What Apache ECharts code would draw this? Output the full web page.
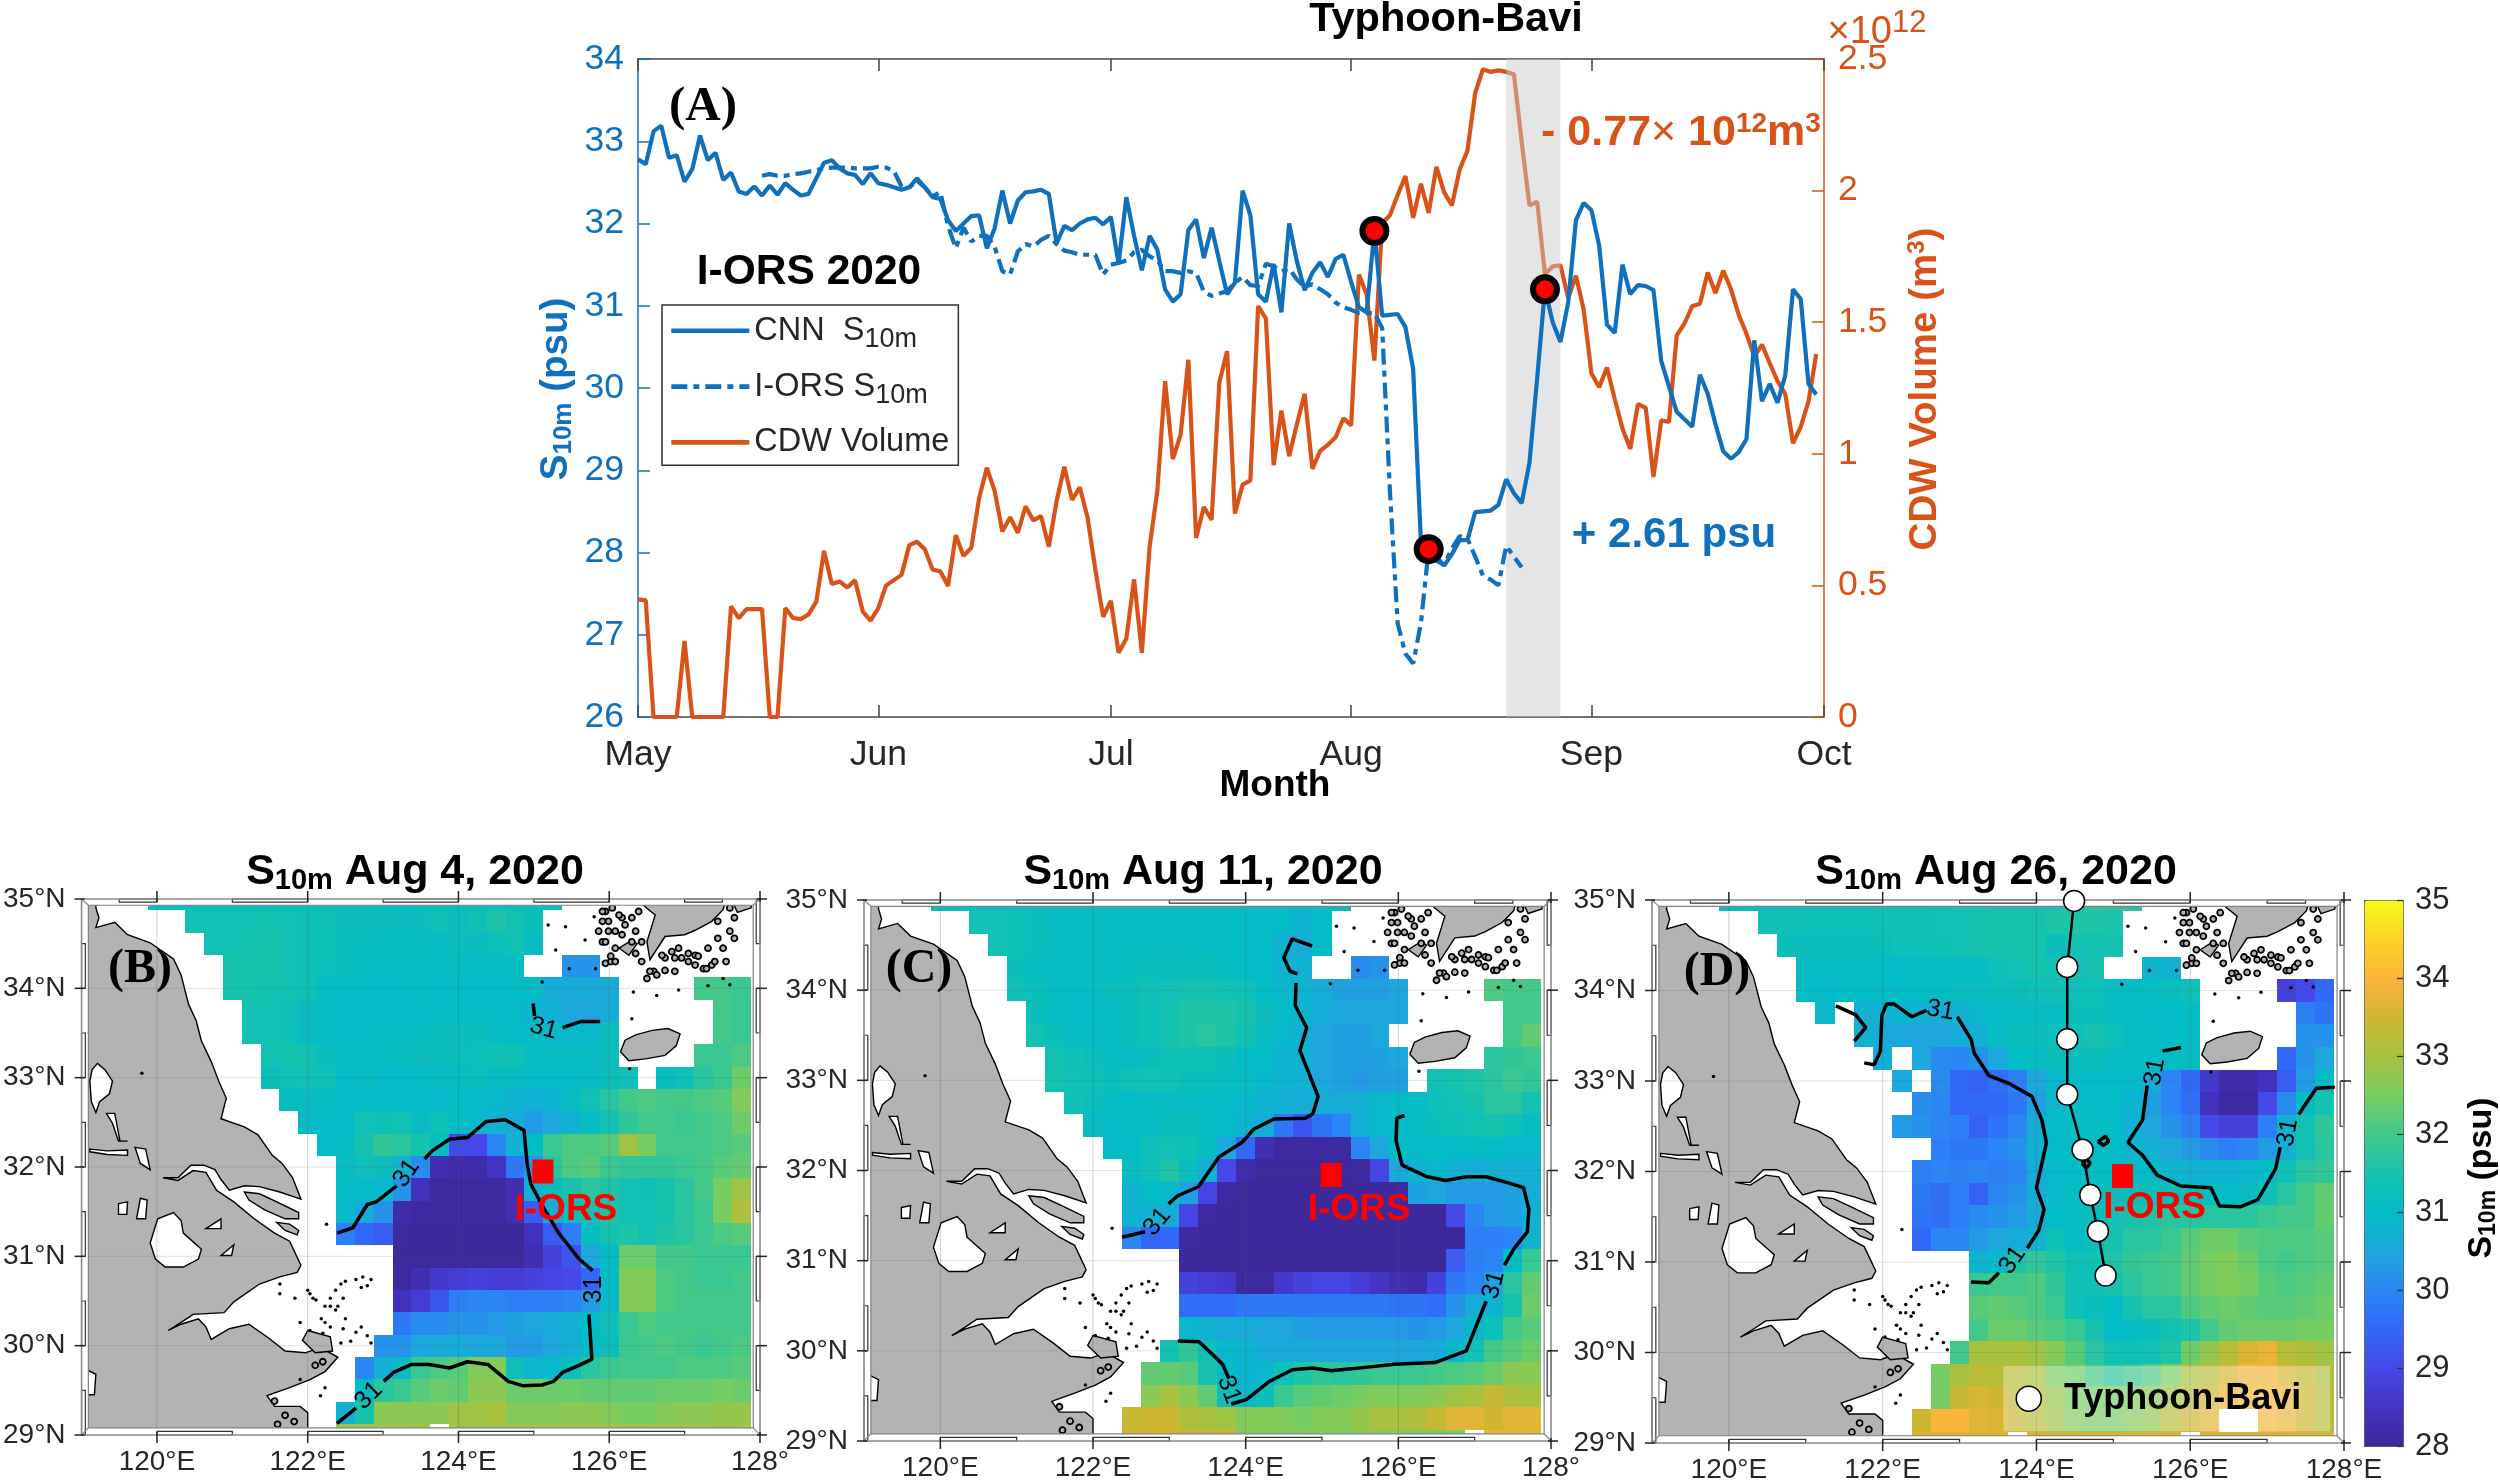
<!DOCTYPE html>
<html>
<head>
<meta charset="utf-8">
<title>I-ORS 2020</title>
<script src="https://cdn.jsdelivr.net/npm/echarts@6/dist/echarts.min.js"></script>
<style>
html,body{margin:0;padding:0;background:#fff}
#main{width:2500px;height:1484px}
</style>
</head>
<body>
<div id="main"></div>
<script>
// panel A, day index counted from May 1
var monthTicks = [0, 31, 61, 92, 123, 153];
var monthLabels = ['May', 'Jun', 'Jul', 'Aug', 'Sep', 'Oct'];
var cnnSalinity = [32.78,32.72,33.12,33.19,32.80,32.83,32.51,32.66,33.07,32.77,32.86,32.53,32.62,32.39,32.36,32.45,32.34,32.46,32.35,32.49,32.41,32.34,32.36,32.55,32.74,32.77,32.67,32.61,32.59,32.48,32.61,32.49,32.47,32.44,32.41,32.44,32.55,32.44,32.32,32.30,32.04,31.91,32.00,32.09,32.10,31.70,31.94,32.40,32.00,32.28,32.38,32.39,32.41,32.36,31.76,31.97,31.92,32.00,32.05,32.07,31.99,32.08,31.51,32.32,31.85,31.43,31.85,31.68,31.20,31.05,31.14,31.92,32.05,31.58,31.95,31.54,31.14,31.28,32.40,32.10,31.14,31.05,31.51,30.92,32.00,31.54,31.19,31.40,31.53,31.35,31.57,31.62,31.29,30.98,30.92,31.91,30.88,30.89,30.90,30.74,30.23,28.13,28.04,27.95,27.84,27.98,28.15,28.15,28.49,28.50,28.51,28.58,28.89,28.72,28.60,29.09,30.12,31.20,30.80,30.56,31.04,32.04,32.25,32.16,31.73,30.77,30.67,31.50,31.14,31.25,31.24,31.19,30.33,30.02,29.71,29.62,29.53,30.16,29.93,29.56,29.23,29.14,29.22,29.38,30.58,29.84,30.05,29.82,30.15,31.20,31.08,30.05,29.92];
var orsStart = 16;
var orsSalinity = [32.58,32.60,32.58,32.58,32.60,32.61,32.63,32.65,32.67,32.68,32.68,32.68,32.67,32.67,32.67,32.69,32.68,32.64,32.45,32.44,32.52,32.44,32.33,32.38,31.97,31.70,31.95,31.78,31.85,31.85,31.72,31.42,31.38,31.66,31.75,31.72,31.80,31.85,31.75,31.67,31.65,31.62,31.62,31.62,31.38,31.50,31.52,31.55,31.65,31.68,31.60,31.55,31.42,31.42,31.40,31.42,31.40,31.17,31.12,31.15,31.18,31.28,31.35,31.25,31.24,31.51,31.48,31.42,31.45,31.32,31.23,31.26,31.20,31.14,31.04,30.98,30.95,30.91,30.91,30.91,30.73,28.75,27.14,26.77,26.65,27.14,28.04,27.90,27.85,28.05,28.20,28.17,27.95,27.72,27.67,27.60,28.08,27.95,27.82];
var cdwVolume = [0.447,0.443,0,0,0,0,0.289,0,0,0,0,0,0.42,0.376,0.41,0.41,0.41,0,0,0.414,0.376,0.372,0.39,0.438,0.631,0.505,0.515,0.492,0.52,0.40,0.366,0.414,0.50,0.52,0.54,0.653,0.666,0.637,0.56,0.554,0.498,0.691,0.612,0.643,0.83,0.947,0.86,0.705,0.759,0.70,0.80,0.747,0.763,0.647,0.82,0.951,0.825,0.873,0.757,0.56,0.381,0.441,0.244,0.298,0.523,0.244,0.647,0.86,1.276,0.98,1.073,1.357,0.68,0.798,0.749,1.272,1.39,0.773,0.883,0.899,1.561,1.514,0.957,1.164,0.991,1.112,1.228,0.943,1.011,1.034,1.063,1.135,1.108,1.681,1.605,1.354,1.876,1.906,1.983,2.055,1.896,2.026,1.915,2.09,1.993,1.944,2.08,2.151,2.37,2.461,2.451,2.457,2.451,2.442,2.186,1.944,1.958,1.683,1.712,1.716,1.592,1.677,1.547,1.305,1.253,1.328,1.208,1.096,1.019,1.189,1.175,0.912,1.127,1.121,1.45,1.495,1.561,1.57,1.689,1.611,1.696,1.625,1.528,1.456,1.369,1.415,1.344,1.276,1.228,1.04,1.102,1.199,1.379];
var eventDays = [95, 102, 117];
var eventSalinity = [31.91, 28.04, 31.20];
var typhoonDays = [112, 119];

// maps: 0.25 degree cells, row 0 is lat 35 going south, each row is [first column, values], column 0 is 120E
var salinityB = [
[0,[31.15,31.15,31.15,31.15,31.15,31.15,31.15,31.15,31.15,31.15,31.15,31.15,31.15,31.15,31.15,31.15,31.15,31.15,31.15,31.15,31.15,31.15]],
[2,[31.4,31.4,31.4,31.4,31.45,31.4,31.3,31.3,31.2,31.2,31.2,31.15,31.2,31.3,31.2,31.35,31.6,31.4,31.2]],
[3,[31.4,31.4,31.45,31.5,31.4,31.3,31.3,31.2,31.15,31.15,31.15,31.15,31.1,31.2,31.2,31.25,31.4,31.1]],
[4,[31.5,31.5,31.5,31.4,31.3,31.25,31.2,31.1,31.1,31.1,31.1,31.1,31.1,31.1,31.1,31.05,null,null,30.2,30.2]],
[4,[31.5,31.5,31.45,31.4,31.3,31.0,31.0,31.0,31.0,31.0,31.05,31.0,31.0,31.0,31.0,31.0,31.0,30.6,30.6,30.6,30.6,null,null,null,null,32.0,32.0,31.9]],
[5,[31.4,31.4,31.3,31.1,31.05,31.0,31.0,31.0,31.0,31.0,31.0,31.0,31.0,31.0,30.95,30.8,30.7,30.5,30.5,30.6,null,null,null,null,null,32.0,31.9]],
[5,[31.4,31.4,31.3,31.1,31.05,31.0,31.0,31.1,31.1,31.1,31.2,31.2,31.2,31.1,31.0,31.0,30.9,30.9,30.9,31.2,null,null,null,null,null,32.0,31.9]],
[6,[31.4,31.5,31.4,31.2,31.1,31.1,31.1,31.15,31.2,31.2,31.2,31.25,31.35,31.35,31.1,31.1,31.1,31.1,31.2,null,null,null,null,31.9,31.9,32.1]],
[6,[31.2,31.3,31.4,31.3,31.0,31.1,30.95,31.0,31.0,31.1,31.1,31.2,31.1,31.1,31.0,31.0,31.0,31.1,31.2,31.3,null,31.1,31.3,31.7,31.9,32.4]],
[7,[31.1,31.1,31.1,31.0,31.0,31.0,31.0,31.0,30.9,31.0,30.95,30.9,30.8,30.7,30.8,31.1,31.4,31.7,32.0,32.1,32.0,32.0,32.1,32.2,32.6]],
[8,[31.0,31.0,31.0,31.4,31.3,31.4,31.1,31.3,31.0,30.9,30.7,30.6,30.3,30.5,30.7,31.1,31.4,31.8,32.0,32.0,31.9,32.0,32.1,32.4]],
[9,[31.0,31.1,31.5,31.8,31.7,31.5,31.1,29.0,29.0,30.0,30.7,31.0,31.9,32.1,32.1,32.2,32.9,32.5,32.0,32.0,32.0,32.1,32.2]],
[10,[31.1,31.3,31.2,30.8,30.1,28.3,28.2,28.2,28.5,29.8,30.3,31.7,32.1,32.2,31.9,31.8,31.8,31.8,31.9,32.0,32.2,32.3]],
[10,[31.0,31.0,30.9,30.2,28.4,28.1,28.1,28.1,28.1,28.3,30.7,31.2,31.5,31.7,31.6,31.4,31.3,31.5,31.7,32.0,32.5,32.9]],
[10,[30.9,30.6,30.2,28.2,28.1,28.1,28.1,28.1,28.1,28.3,29.3,30.6,31.2,31.4,31.6,31.4,31.4,31.5,31.7,31.9,32.5,33.1]],
[10,[29.9,29.5,29.3,28.1,28.05,28.05,28.05,28.05,28.05,28.05,28.4,29.3,29.9,31.1,31.5,31.6,31.4,31.6,31.7,31.9,32.1,32.2]],
[13,[28.05,28.05,28.05,28.05,28.05,28.05,28.05,28.3,28.8,29.2,30.5,31.0,32.4,32.4,32.0,32.0,31.9,31.9,31.9]],
[13,[28.1,28.3,28.6,28.7,28.8,28.7,28.7,28.8,28.9,29.0,29.5,31.0,32.6,32.6,32.1,32.0,31.9,31.9,32.0]],
[13,[28.4,28.7,29.2,29.9,30.0,30.0,29.9,29.9,29.9,30.0,30.3,30.9,32.6,32.6,32.1,32.0,32.0,32.0,32.0]],
[13,[29.8,30.1,30.1,30.2,30.2,30.3,30.4,30.5,30.6,30.7,31.0,31.3,31.9,32.1,32.0,32.0,32.0,32.0,32.0]],
[12,[30.2,30.2,30.5,30.6,30.6,30.5,30.5,30.3,30.3,30.5,30.7,31.0,31.2,31.9,32.0,32.1,32.0,31.9,32.0,32.1]],
[11,[30.0,30.7,31.1,31.9,32.1,32.2,32.6,32.6,31.3,30.9,30.9,31.2,31.7,31.9,32.0,32.0,32.0,32.1,32.1,32.1,32.2]],
[11,[31.0,31.7,31.9,32.2,32.4,32.3,32.7,32.7,32.4,32.4,32.4,32.4,32.3,32.3,32.3,32.3,32.4,32.4,32.4,32.5,32.4]],
[10,[30.7,31.5,32.7,32.7,32.7,32.7,32.9,32.9,33.0,32.6,32.6,32.6,32.7,32.7,32.6,32.5,32.5,32.6,32.7,32.7,32.8,32.8]],
[10,[32.9,32.9,32.9,32.9,32.9,null,32.9,32.9,32.9,32.9,32.9,32.9,32.9,32.9,32.9,32.9,32.9,32.9,32.9,32.9,32.9,32.9]]
];
var salinityC = [
[0,[31.1,31.1,31.1,31.1,31.1,31.1,31.1,31.1,31.1,31.1,31.1,31.1,31.1,31.1,31.1,31.1,31.1,31.1,31.1,31.1,31.1,31.1]],
[2,[31.4,31.4,31.3,31.2,31.1,31.1,31.1,31.05,31.05,31.05,31.05,31.05,31.05,31.05,31.0,31.0,31.0,30.8,31.0]],
[3,[31.4,31.3,31.2,31.1,31.1,31.1,31.1,31.1,31.1,31.1,31.1,31.05,31.0,31.0,31.0,30.7,30.6,30.95]],
[4,[31.2,31.1,31.1,31.05,31.1,31.1,31.15,31.2,31.2,31.2,31.2,31.1,31.0,31.0,30.8,30.7,null,null,30.1,30.2]],
[4,[31.3,31.2,31.05,31.0,31.1,31.2,31.2,31.3,31.4,31.5,31.5,31.4,31.3,31.0,30.9,30.8,30.6,30.4,30.4,30.4,30.5,null,null,null,null,32.1,32.0,32.0]],
[5,[31.2,31.05,31.0,31.0,31.1,31.2,31.3,31.5,31.6,31.6,31.6,31.5,31.2,31.0,30.8,30.6,30.5,30.5,30.5,30.5,null,null,null,null,null,32.0,32.0]],
[5,[31.4,31.2,31.1,31.05,31.1,31.2,31.3,31.5,31.6,31.7,31.6,31.4,31.1,30.9,30.7,30.5,30.4,30.4,30.5,null,null,null,null,null,null,32.0,32.3]],
[6,[31.4,31.3,31.2,31.1,31.1,31.2,31.3,31.3,31.3,31.2,31.0,31.0,30.8,30.7,30.5,30.4,30.4,30.4,30.5,null,null,null,null,31.7,31.8,31.9]],
[6,[31.5,31.4,31.3,31.2,31.3,31.4,31.3,31.2,31.2,31.1,31.1,30.9,30.8,30.7,30.5,30.4,30.3,30.4,30.4,null,31.4,31.5,31.6,31.7,31.9,31.8]],
[7,[31.3,31.2,31.05,31.0,31.1,31.1,31.1,31.0,31.0,30.9,30.8,30.7,30.6,30.6,30.6,30.7,30.9,31.0,31.0,31.3,31.4,31.5,31.7,31.7,31.4]],
[8,[31.1,31.0,31.05,31.1,31.2,31.2,31.1,31.0,30.8,30.6,29.8,29.2,29.7,30.0,30.7,30.9,31.0,31.1,31.2,31.3,31.4,31.5,31.3,31.1]],
[9,[31.0,31.0,31.3,31.4,31.3,31.1,30.5,29.5,28.3,28.1,28.1,28.1,28.1,30.0,30.5,31.0,31.0,31.0,31.0,31.0,31.0,30.9,30.9]],
[10,[31.1,31.3,31.6,31.2,30.7,29.0,28.2,28.05,28.05,28.05,28.05,28.05,28.1,28.9,30.5,30.8,30.9,30.7,30.6,30.7,30.7,30.7]],
[10,[30.8,31.0,30.9,30.4,28.9,28.1,28.05,28.05,28.05,28.05,28.05,28.05,28.05,28.05,28.1,30.4,30.5,30.3,30.3,30.3,30.4,30.6]],
[10,[30.8,30.7,30.6,28.9,28.1,28.05,28.05,28.05,28.05,28.05,28.05,28.05,28.05,28.05,28.05,28.05,28.05,29.0,30.0,30.3,30.4,30.7]],
[10,[30.0,29.5,29.5,28.1,28.05,28.05,28.05,28.05,28.05,28.05,28.05,28.05,28.05,28.05,28.05,28.05,28.05,28.05,29.9,29.9,30.0,30.8]],
[13,[28.05,28.05,28.05,28.05,28.05,28.05,28.05,28.05,28.05,28.05,28.05,28.05,28.05,28.05,29.3,29.9,30.0,31.0,31.9]],
[13,[28.8,28.7,28.6,28.1,28.1,28.6,28.8,28.9,28.9,28.7,28.5,28.3,28.2,28.8,29.8,30.0,30.4,31.7,32.3]],
[13,[29.6,29.6,29.6,29.8,29.8,29.8,29.8,29.8,29.8,29.8,29.8,29.7,29.7,29.6,30.2,30.6,30.8,31.5,32.4]],
[13,[30.9,30.7,30.6,30.6,30.5,30.5,30.4,30.3,30.3,30.3,30.3,30.3,30.2,30.3,30.5,30.9,31.3,32.0,32.2]],
[12,[31.4,31.8,31.3,30.9,30.8,30.6,30.6,30.6,30.5,30.5,30.5,30.5,30.5,30.5,30.6,30.9,31.4,32.0,32.2,32.4]],
[11,[32.3,32.3,32.2,31.5,31.0,30.8,30.9,31.3,31.6,31.8,31.7,31.8,31.9,31.9,31.9,32.0,32.1,32.2,32.4,32.7,32.7]],
[11,[32.7,33.0,32.7,32.3,31.2,30.9,31.2,31.9,32.2,32.3,32.4,32.5,32.6,32.6,32.6,32.7,32.9,33.0,33.4,33.1,33.0]],
[10,[33.4,33.5,33.5,33.1,33.0,32.9,32.6,32.6,32.6,32.5,32.6,32.6,32.8,33.0,33.0,33.1,33.4,33.7,33.7,33.5,33.7,33.7]],
[10,[33.5,33.5,33.5,33.5,33.5,33.5,32.6,32.6,32.6,32.6,32.6,32.6,32.6,32.6,32.6,32.6,32.6,32.6,null,33.8,33.8,33.8]]
];
var salinityD = [
[0,[31.1,31.1,31.1,31.2,31.2,31.2,31.2,31.2,31.3,31.3,31.3,31.3,31.4,31.4,31.4,31.4,31.4,31.4,31.5,31.7,31.7,31.7]],
[2,[31.35,31.35,31.3,31.3,31.3,31.3,31.3,31.35,31.35,31.4,31.4,31.45,31.5,31.5,31.5,31.6,31.6,31.6,31.55]],
[3,[31.2,31.2,31.2,31.2,31.2,31.2,31.3,31.3,31.3,31.4,31.5,31.5,31.5,31.5,31.2,31.4,31.5,31.5]],
[4,[31.1,31.1,31.1,31.05,31.0,31.0,31.05,31.1,31.1,31.1,31.3,31.4,31.5,31.4,31.4,31.5,null,null,30.8,30.8]],
[4,[31.0,30.95,31.0,31.0,31.0,31.0,31.0,31.0,31.1,31.1,31.2,31.2,31.3,31.3,31.3,31.3,31.1,31.05,31.1,31.2,31.3,null,null,null,null,28.8,29.0,29.5]],
[5,[30.9,null,30.7,30.7,30.8,30.7,30.6,30.7,30.9,31.0,31.1,31.1,31.1,31.2,31.2,31.1,31.05,31.0,31.0,31.05,null,null,null,null,null,29.9,29.7]],
[7,[30.7,30.6,30.5,30.5,30.5,30.6,30.7,31.1,31.2,31.2,31.25,31.3,31.5,31.3,31.1,31.05,31.0,31.0,null,null,null,null,null,30.2,30.2]],
[8,[30.6,null,30.5,30.1,30.0,30.2,30.5,31.0,31.1,31.2,31.2,31.2,31.1,31.1,31.0,31.0,31.05,null,null,null,null,29.5,30.2,30.5]],
[9,[30.5,null,30.1,29.5,29.4,29.6,29.9,30.5,30.9,31.0,31.0,31.0,31.0,30.6,30.0,29.5,28.6,28.2,28.2,28.4,29.3,30.3,31.0]],
[10,[30.1,30.0,29.5,29.5,29.5,29.8,30.4,30.9,31.05,31.0,31.0,30.8,30.4,30.0,29.6,28.4,28.1,28.1,29.0,30.1,31.0,31.5]],
[9,[30.3,30.2,30.0,29.9,29.4,29.7,30.0,30.6,31.0,31.05,31.05,31.0,30.7,30.5,30.2,29.9,29.0,28.8,28.8,29.9,30.7,31.4,31.8]],
[11,[29.9,29.8,29.8,30.0,30.2,30.7,31.0,31.05,31.05,31.0,30.8,30.7,30.5,30.3,30.1,29.9,30.0,30.3,30.7,31.4,31.7]],
[10,[29.9,30.0,29.9,30.0,29.9,30.0,30.6,30.9,31.0,31.05,31.0,31.0,30.95,30.8,30.8,30.8,30.8,30.9,31.0,31.3,31.7,31.8]],
[10,[29.8,29.6,29.9,29.4,30.0,30.2,30.6,30.9,31.0,31.1,31.2,31.2,31.2,31.2,31.2,31.1,31.0,31.1,31.3,31.7,32.0,32.3]],
[10,[29.7,29.6,29.9,30.1,30.2,30.3,30.6,31.0,31.1,31.2,31.4,31.5,31.6,31.7,31.7,31.7,31.7,31.7,31.9,32.0,32.0,32.3]],
[10,[29.5,30.0,30.0,30.3,30.5,30.6,30.8,31.3,31.0,31.2,31.5,31.7,31.7,31.9,32.2,32.4,32.4,32.2,32.1,32.1,32.1,32.2]],
[13,[30.8,30.9,31.6,31.8,31.6,31.3,31.4,31.6,31.8,31.9,32.0,32.3,32.5,32.6,32.4,32.1,32.0,32.1,32.2]],
[13,[31.9,32.0,32.0,32.1,31.8,31.3,31.3,31.5,31.7,31.9,32.0,32.3,32.5,32.6,32.5,32.2,32.1,32.2,32.3]],
[13,[32.2,32.3,32.2,32.1,31.9,31.3,31.2,31.0,31.5,31.7,31.7,32.1,32.3,32.4,32.3,32.2,32.2,32.3,32.4]],
[13,[32.0,32.4,32.4,32.2,32.1,31.9,31.5,31.0,31.05,31.2,31.4,31.6,32.0,32.3,32.4,32.4,32.4,32.5,32.5]],
[12,[32.0,33.0,33.0,33.0,32.9,32.6,32.2,31.7,31.4,31.3,31.4,31.6,32.4,32.8,33.2,33.6,33.8,33.2,33.1,32.9]],
[11,[32.5,33.0,33.2,33.2,33.2,33.0,32.5,32.4,32.0,31.7,31.9,32.1,32.5,33.0,33.2,33.6,33.9,33.9,33.6,33.4,33.1]],
[11,[32.5,33.4,33.6,33.5,33.2,33.1,32.8,32.5,32.5,32.5,32.6,32.7,32.9,33.2,33.5,33.8,33.9,34.0,33.8,33.5,33.2]],
[10,[33.5,34.0,34.0,33.7,33.6,33.4,33.2,32.9,32.6,32.5,32.5,32.6,32.8,33.2,33.5,33.7,null,null,34.0,33.8,33.5,33.2]],
[10,[33.6,33.6,33.6,33.6,33.6,null,33.6,33.6,33.6,33.6,33.6,33.6,33.6,33.6,null,33.6,33.6,33.6,33.6,33.6,33.6,33.6]]
];

// coast traced in lon/lat
var mainland = [[119,35],[119.19,34.95],[119.19,34.90],[119.23,34.79],[119.19,34.68],[119.44,34.74],[119.61,34.60],[119.91,34.51],[120.22,34.33],[120.32,34.15],[120.42,33.82],[120.52,33.64],[120.59,33.41],[120.72,33.18],[120.82,32.96],[120.92,32.77],[120.85,32.54],[121.16,32.45],[121.34,32.36],[121.53,32.13],[121.66,32.04],[121.80,31.88],[121.91,31.64],[121.63,31.72],[121.36,31.78],[121.16,31.79],[120.96,31.74],[120.85,31.86],[120.77,31.97],[120.62,32.02],[120.45,32.02],[120.28,31.88],[120.08,31.88],[120.28,31.85],[120.48,31.96],[120.65,31.94],[120.79,31.74],[121.02,31.61],[121.29,31.42],[121.56,31.26],[121.76,31.17],[121.91,30.90],[121.86,30.82],[121.63,30.77],[121.36,30.69],[121.02,30.49],[120.89,30.37],[120.48,30.35],[120.32,30.26],[120.15,30.17],[120.32,30.24],[120.55,30.30],[120.65,30.21],[120.72,30.07],[120.96,30.19],[121.22,30.24],[121.49,30.08],[121.70,29.94],[121.97,29.92],[122.17,29.98],[122.40,29.87],[122.23,29.71],[122.03,29.62],[121.76,29.53],[121.46,29.44],[121.56,29.32],[121.90,29.32],[122.00,29.25],[122.00,29],[119,29]];
var chongming = [[121.16,31.72],[121.36,31.70],[121.59,31.61],[121.88,31.49],[121.88,31.42],[121.70,31.42],[121.43,31.52],[121.22,31.63]];
var hengsha = [[121.59,31.38],[121.76,31.36],[121.88,31.29],[121.86,31.24],[121.70,31.29]];
var zhoushan = [[122.0,30.17],[122.3,30.10],[122.33,29.94],[122.10,29.92],[121.93,30.06]];
var jeju = [[126.15,33.29],[126.21,33.42],[126.35,33.48],[126.57,33.53],[126.78,33.55],[126.94,33.49],[126.89,33.36],[126.74,33.25],[126.48,33.21],[126.26,33.19]];
var korea = [[126.35,35],[126.61,34.82],[126.50,34.52],[126.54,34.32],[126.74,34.58],[127.00,34.60],[127.14,34.65],[127.36,34.75],[127.51,34.88],[127.55,35]];
var koreaWest = [[126.13,34.45],[126.30,34.54],[126.37,34.50],[126.26,34.37]];
var koreaEast = [[127.62,35],[127.70,34.85],[127.88,34.90],[127.9,35]];
var taihu = [[119.91,31.15],[120.01,31.42],[120.22,31.49],[120.32,31.40],[120.35,31.26],[120.59,31.08],[120.55,30.97],[120.35,30.88],[120.11,30.88],[119.98,30.97]];
var hongze = [[119.21,33.16],[119.31,33.09],[119.41,32.96],[119.37,32.82],[119.24,32.73],[119.19,32.61],[119.13,32.73],[119.11,32.96],[119.14,33.09]];
var gaoyou = [[119.33,32.60],[119.44,32.60],[119.51,32.29],[119.61,32.29],[119.49,32.29],[119.41,32.49]];
var lakeA = [[119.11,32.20],[119.34,32.18],[119.61,32.19],[119.61,32.13],[119.34,32.14],[119.11,32.17]];
var lakeB = [[119.71,32.22],[119.85,32.20],[119.91,31.97],[119.78,32.04]];
var lakeC = [[119.49,31.59],[119.61,31.61],[119.60,31.47],[119.49,31.47]];
var lakeD = [[119.78,31.65],[119.87,31.63],[119.85,31.42],[119.73,31.42]];
var lakeE = [[120.65,31.31],[120.85,31.42],[120.85,31.31]];
var lakeF = [[120.85,31.01],[121.02,31.13],[120.99,31.01]];
var lakeG = [[119,29.76],[119.19,29.68],[119.17,29.45],[119,29.45]];
var specks = [[125.19,34.71],[125.42,34.69],[125.29,34.43],[125.68,34.54],[125.47,34.22],[125.11,34.07],[125.82,34.22],[126.32,33.96],[126.30,33.66],[126.63,33.92],[126.92,33.98],[127.31,34.03],[127.60,34.04],[126.27,33.10],[125.80,34.80],[127.51,34.11],[122.03,30.58],[122.11,30.51],[122.30,30.53],[122.37,30.40],[122.18,30.30],[122.44,30.69],[122.64,30.74],[122.73,30.77],[122.79,30.67],[121.63,30.58],[121.90,30.26],[122.30,30.21],[122.47,30.19],[122.64,30.15],[122.79,30.11],[122.23,30.44],[122.40,30.44],[122.03,30.17],[122.25,31.36],[119.80,33.05],[122.50,30.72],[122.37,30.62],[122.47,30.53],[122.07,30.53],[122.0,30.62],[122.30,30.44],[122.71,30.65],[122.84,30.74],[122.23,30.26],[122.50,30.30],[122.71,30.21],[122.84,30.03],[122.57,30.05],[122.44,30.03],[122.20,30.14],[121.63,30.69],[121.83,30.53],[122.10,29.80],[121.90,29.62],[122.23,29.53],[122.17,29.44]];
var rocks = [[125.95,34.86],[125.99,34.64],[125.91,34.52],[126.02,34.30],[126.08,34.45],[126.30,34.52],[126.50,34.11],[126.59,34.19],[126.87,34.19],[126.96,34.34],[127.14,34.37],[127.36,34.26],[127.51,34.45],[127.66,34.56],[127.60,34.90],[127.44,34.75],[125.86,34.64],[126.17,34.79],[126.39,34.86],[126.35,34.39],[126.74,34.34],[127.05,34.30],[127.25,34.22],[127.55,34.30],[125.91,34.86],[126.04,34.90],[126.13,34.82],[125.99,34.75],[126.21,34.71],[125.91,34.75],[126.30,34.79],[126.08,34.64],[125.95,34.52],[126.17,34.60],[126.35,34.64],[126.43,34.52],[126.02,34.36],[125.95,34.28],[126.08,34.30],[126.43,34.30],[126.54,34.19],[126.63,34.15],[126.70,34.37],[126.83,34.41],[126.92,34.45],[127.05,34.39],[127.18,34.36],[127.31,34.45],[127.44,34.56],[127.60,34.64],[127.66,34.79],[127.40,34.30],[127.14,34.26],[126.87,34.34],[126.74,34.20],[127.29,34.22],[121.56,29.38],[121.70,29.22],[121.82,29.15],[121.60,29.12],[122.20,29.82],[122.10,29.78]];

// salinity 31 contour pieces per panel
var contourB = [
[[122.39,31.26],[122.60,31.32],[122.79,31.58],[122.91,31.61],[123.18,31.79]],
[[123.55,32.09],[123.65,32.18],[123.88,32.31],[124.12,32.33],[124.37,32.51],[124.62,32.53],[124.87,32.41],[124.91,32.04],[124.96,31.81],[125.13,31.54],[125.33,31.26],[125.60,30.97],[125.78,30.84]],
[[125.73,30.35],[125.77,29.85],[125.60,29.78],[125.38,29.70],[125.26,29.60],[125.11,29.56],[124.86,29.55],[124.66,29.60],[124.39,29.79],[124.12,29.82],[123.88,29.75],[123.61,29.79],[123.38,29.79],[123.14,29.70],[123.01,29.60]],
[[122.64,29.30],[122.39,29.13]],
[[124.99,33.83],[125.01,33.69]],
[[125.38,33.56],[125.63,33.63],[125.88,33.63]]
];
var contourC = [
[[122.38,31.26],[122.68,31.32]],
[[122.99,31.63],[123.11,31.72],[123.38,31.82],[123.65,32.15],[123.95,32.31],[124.11,32.46],[124.37,32.57],[124.78,32.58],[124.88,32.63],[124.95,32.82],[124.71,33.33],[124.80,33.58],[124.65,33.83],[124.66,34.08]],
[[124.68,34.18],[124.58,34.21],[124.50,34.36],[124.61,34.57],[124.87,34.49]],
[[126.08,32.61],[125.98,32.58],[125.97,32.33],[126.05,32.06],[126.38,31.93],[126.62,31.89],[126.89,31.93],[127.15,31.93],[127.45,31.86],[127.64,31.81],[127.71,31.57],[127.69,31.32],[127.52,31.14],[127.39,30.95]],
[[127.15,30.55],[126.89,30.00],[126.48,29.87],[125.95,29.85],[125.38,29.80],[125.12,29.78],[124.88,29.81],[124.61,29.79],[124.31,29.66],[124.01,29.46],[123.81,29.41]],
[[123.11,30.11],[123.39,30.10],[123.70,29.85],[123.78,29.69]]
];
var contourD = [
[[121.39,33.83],[121.65,33.73],[121.78,33.59],[121.63,33.44]],
[[121.76,33.20],[121.89,33.18],[121.97,33.33],[121.99,33.73],[122.05,33.85],[122.15,33.85],[122.38,33.71],[122.57,33.78]],
[[122.97,33.71],[123.15,33.46],[123.19,33.31],[123.38,33.06],[123.65,32.97],[123.94,32.83],[124.07,32.57],[124.13,32.32],[124.00,31.82],[124.10,31.58],[124.03,31.35],[123.88,31.15]],
[[123.51,30.88],[123.38,30.77],[123.15,30.78]],
[[125.88,33.37],[125.64,33.33]],
[[125.44,32.95],[125.38,32.57],[125.19,32.32],[125.38,32.18],[125.57,31.96],[125.88,31.84],[126.27,31.82],[126.38,31.62],[126.65,31.61],[126.88,31.69],[127.11,32.03],[127.17,32.27]],
[[127.41,32.63],[127.64,32.92],[127.88,32.93]],
[[124.80,32.33],[124.90,32.39],[124.94,32.33],[124.87,32.29],[124.80,32.33]],
[[124.59,32.09],[124.65,32.14],[124.70,32.09],[124.65,32.04],[124.59,32.09]]
];
// lon, lat, rotation in degrees
var contourLabelsB = [[123.31,31.93,55],[122.81,29.44,45],[125.80,30.63,90],[125.13,33.55,-15]];
var contourLabelsC = [[122.84,31.43,50],[127.25,30.73,75],[123.78,29.57,-70]];
var contourLabelsD = [[122.75,33.78,-10],[123.69,31.02,55],[125.54,33.10,80],[127.27,32.43,80]];

var iorsSite = [125.12, 31.95];
var bavi = [[124.49,34.99],[124.40,34.26],[124.40,33.46],[124.40,32.85],[124.60,32.24],[124.70,31.74],[124.80,31.34],[124.90,30.85]];
var baviLegendPoint = [123.90, 29.49];
var baviLegendBox = [123.57, 29.13, 127.82, 29.85];

var colorStops = ['#3c2797','#4434c6','#4549ea','#3168f7','#2b85f4','#1ca8dc','#04bcc6','#16c2ae','#42c98a','#78cd62','#a8c13e','#cfb630','#fab53a','#fbd328','#f8fb16'];

var blue = '#0f70bd', orange = '#d95319';
var sans = 'Liberation Sans', serif = 'Liberation Serif';

function cellsOf(rows) {
    var out = [];
    rows.forEach(function (row, r) {
        row[1].forEach(function (v, j) {
            if (v !== null) out.push([120 + 0.25 * (row[0] + j), 35 - 0.25 * r, v]);
        });
    });
    return out;
}
function renderCell(params, api) {
    var lon = api.value(0), lat = api.value(1);
    var a = api.coord([Math.max(lon - 0.125, 119.09), Math.min(lat + 0.125, 34.93)]);
    var b = api.coord([Math.min(lon + 0.125, 127.91), Math.max(lat - 0.125, 29.08)]);
    var x0 = Math.round(a[0]), y0 = Math.round(a[1]);
    return {type: 'rect', shape: {x: x0, y: y0, width: Math.round(b[0]) - x0, height: Math.round(b[1]) - y0}, style: {fill: api.visual('color')}};
}
var landShapes = [
    {pts: mainland, fill: '#b3b3b3'}, {pts: korea, fill: '#b3b3b3'}, {pts: koreaWest, fill: '#b3b3b3'}, {pts: koreaEast, fill: '#b3b3b3'},
    {pts: jeju, fill: '#b3b3b3'}, {pts: chongming, fill: '#b3b3b3'}, {pts: hengsha, fill: '#b3b3b3'}, {pts: zhoushan, fill: '#b3b3b3'},
    {pts: taihu, fill: '#fff'}, {pts: hongze, fill: '#fff'}, {pts: gaoyou, fill: '#fff'}, {pts: lakeA, fill: '#fff'}, {pts: lakeB, fill: '#fff'},
    {pts: lakeC, fill: '#fff'}, {pts: lakeD, fill: '#fff'}, {pts: lakeE, fill: '#fff'}, {pts: lakeF, fill: '#fff'}, {pts: lakeG, fill: '#fff'}
];
function renderLand(params, api) {
    var s = landShapes[api.value(0)];
    return {type: 'polygon', shape: {points: s.pts.map(function (p) { return api.coord(p); })}, style: {fill: s.fill, stroke: '#000', lineWidth: 1.4}};
}
function renderGraticule(params, api) {
    var kids = [];
    [120, 122, 124, 126].forEach(function (lon) {
        var a = api.coord([lon, 29.08]), b = api.coord([lon, 34.93]);
        kids.push({type: 'line', shape: {x1: a[0], y1: a[1], x2: b[0], y2: b[1]}, style: {stroke: 'rgba(90,90,90,0.28)', lineWidth: 1}});
    });
    [30, 31, 32, 33, 34].forEach(function (lat) {
        var a = api.coord([119.09, lat]), b = api.coord([127.91, lat]);
        kids.push({type: 'line', shape: {x1: a[0], y1: a[1], x2: b[0], y2: b[1]}, style: {stroke: 'rgba(90,90,90,0.18)', lineWidth: 1}});
    });
    return {type: 'group', children: kids};
}
var barsTop = [[119.5,120],[121,122],[123,124],[125,126],[127,127.5]];
var barsBottom = [[120,121],[122,123],[124,125],[126,127]];
var barsLeft = [[29,29.5],[30,30.5],[31,31.5],[32,32.5],[33,33.5],[34,34.5]];
var barsRight = [[29.5,30],[30.5,31],[31.5,32],[32.5,33],[33.5,34],[34.5,35]];
function renderFrame(params, api) {
    var kids = [];
    function line(a, b, color, w) {
        kids.push({type: 'line', shape: {x1: a[0], y1: a[1], x2: b[0], y2: b[1]}, style: {stroke: color, lineWidth: w}});
    }
    function box(a, b, fill, stroke, w) {
        kids.push({type: 'rect', shape: {x: a[0], y: a[1], width: b[0] - a[0], height: b[1] - a[1]}, style: {fill: fill, stroke: stroke, lineWidth: w}});
    }
    var c = function (lon, lat) { return api.coord([lon, lat]); };
    box(c(119, 35), c(128, 34.93), '#fff', null, 0);
    box(c(119, 29.08), c(128, 29), '#fff', null, 0);
    box(c(119, 35), c(119.09, 29), '#fff', null, 0);
    box(c(127.91, 35), c(128, 29), '#fff', null, 0);
    barsTop.forEach(function (b) { box(c(b[0], 35), c(b[1], 34.965), '#fff', '#333', 1.2); });
    barsBottom.forEach(function (b) { box(c(b[0], 29.04), c(b[1], 29), '#fff', '#333', 1.2); });
    barsLeft.forEach(function (b) { box(c(119, b[1]), c(119.05, b[0]), '#fff', '#333', 1.2); });
    barsRight.forEach(function (b) { box(c(127.95, b[1]), c(128, b[0]), '#fff', '#333', 1.2); });
    box(c(119, 35), c(128, 29), 'none', '#8a8a8a', 1.6);
    box(c(119.09, 34.93), c(127.91, 29.08), 'none', '#808080', 1.2);
    line(c(119, 35), c(119.09, 34.93), '#8a8a8a', 1.2);
    line(c(128, 35), c(127.91, 34.93), '#8a8a8a', 1.2);
    line(c(119, 29), c(119.09, 29.08), '#8a8a8a', 1.2);
    line(c(128, 29), c(127.91, 29.08), '#8a8a8a', 1.2);
    [120, 122, 124, 126, 128].forEach(function (lon) {
        var t = c(lon, 35), b = c(lon, 29);
        line([t[0], t[1] - 8], [t[0], t[1] + 3], '#222', 1.5);
        line([b[0], b[1] - 3], [b[0], b[1] + 8], '#222', 1.5);
    });
    [29, 30, 31, 32, 33, 34, 35].forEach(function (lat) {
        var l = c(119, lat), r = c(128, lat);
        line([l[0] - 7, l[1]], [l[0] + 3, l[1]], '#222', 1.5);
        line([r[0] - 3, r[1]], [r[0] + 7, r[1]], '#222', 1.5);
    });
    return {type: 'group', children: kids};
}
function renderContourLabel(params, api) {
    var p = api.coord([api.value(0), api.value(1)]);
    return {type: 'text', x: p[0], y: p[1], rotation: api.value(2) * Math.PI / 180, style: {text: '31', fontFamily: sans, fontSize: 25, fill: '#000', align: 'center', verticalAlign: 'middle'}};
}
function renderVeil(params, api) {
    var a = api.coord([baviLegendBox[0], baviLegendBox[3]]), b = api.coord([baviLegendBox[2], baviLegendBox[1]]);
    return {type: 'rect', shape: {x: a[0], y: a[1], width: b[0] - a[0], height: b[1] - a[1]}, style: {fill: 'rgba(255,255,255,0.32)'}};
}
function withGaps(segments) {
    var out = [];
    segments.forEach(function (s) { out = out.concat(s); out.push(['-', '-']); });
    return out;
}

var panels = [
    {left: 77, top: 899, width: 683, height: 536, cells: salinityB, contour: contourB, labels: contourLabelsB, lastLabel: '128°', iorsOffset: [23, 38]},
    {left: 864, top: 900, width: 687, height: 541, cells: salinityC, contour: contourC, labels: contourLabelsC, lastLabel: '128°', iorsOffset: [28, 35]},
    {left: 1652, top: 900, width: 692, height: 546, cells: salinityD, contour: contourD, labels: contourLabelsD, lastLabel: '128°E', iorsOffset: [32, 32]}
];

var grids = [{left: 638, top: 59, width: 1186, height: 658}];
var xAxes = [
    {type: 'value', gridIndex: 0, position: 'bottom', min: 0, max: 153,
        axisLine: {onZero: false, lineStyle: {color: '#444', width: 1.5}},
        axisTick: {inside: true, length: 12, customValues: monthTicks, lineStyle: {color: '#444', width: 1.5}},
        axisLabel: {customValues: monthTicks, margin: 20, fontSize: 35.5, color: '#262626', fontFamily: sans, hideOverlap: false, formatter: function (v) { return monthLabels[monthTicks.indexOf(v)]; }},
        splitLine: {show: false}},
    {type: 'value', gridIndex: 0, position: 'top', min: 0, max: 153,
        axisLine: {onZero: false, lineStyle: {color: '#444', width: 1.5}},
        axisTick: {inside: true, length: 12, customValues: monthTicks, lineStyle: {color: '#444', width: 1.5}},
        axisLabel: {show: false}, splitLine: {show: false}}
];
var yAxes = [
    {type: 'value', gridIndex: 0, position: 'left', min: 26, max: 34, interval: 1,
        axisLine: {show: true, onZero: false, lineStyle: {color: blue, width: 1.5}},
        axisTick: {show: true, inside: true, length: 12, lineStyle: {color: blue, width: 1.5}},
        axisLabel: {margin: 14, fontSize: 35.5, color: blue, fontFamily: sans, padding: [5, 0, 0, 0]}, splitLine: {show: false}},
    {type: 'value', gridIndex: 0, position: 'right', min: 0, max: 2.5, interval: 0.5,
        axisLine: {show: true, onZero: false, lineStyle: {color: orange, width: 1.5}},
        axisTick: {show: true, inside: true, length: 12, lineStyle: {color: orange, width: 1.5}},
        axisLabel: {margin: 14, fontSize: 35.5, color: orange, fontFamily: sans, padding: [5, 0, 0, 0]}, splitLine: {show: false}}
];
var series = [
    {name: 'CDW Volume', type: 'line', xAxisIndex: 0, yAxisIndex: 1, symbol: 'none', silent: true, z: 3,
        data: cdwVolume.map(function (v, i) { return [i, v]; }),
        lineStyle: {color: orange, width: 4.2}, itemStyle: {color: orange},
        markArea: {silent: true, z: 6, itemStyle: {color: 'rgba(200,200,200,0.48)'}, data: [[{xAxis: typhoonDays[0]}, {xAxis: typhoonDays[1]}]]}},
    {name: 'I-ORS S10m', type: 'line', xAxisIndex: 0, yAxisIndex: 0, symbol: 'none', silent: true, z: 7,
        data: orsSalinity.map(function (v, i) { return [i + orsStart, v]; }),
        lineStyle: {color: blue, width: 4.2, type: [16, 6, 6, 6]}, itemStyle: {color: blue}},
    {name: 'CNN  S10m', type: 'line', xAxisIndex: 0, yAxisIndex: 0, symbol: 'none', silent: true, z: 7,
        data: cnnSalinity.map(function (v, i) { return [i, v]; }),
        lineStyle: {color: blue, width: 4.2}, itemStyle: {color: blue}},
    {type: 'scatter', xAxisIndex: 0, yAxisIndex: 0, z: 9, silent: true, symbolSize: 24,
        data: eventDays.map(function (d, i) { return [d, eventSalinity[i]]; }),
        itemStyle: {color: '#ff0000', borderColor: '#000', borderWidth: 6, opacity: 1}}
];
var heatIndexes = [];
panels.forEach(function (p, i) {
    var g = i + 1, ax = xAxes.length, ay = yAxes.length;
    grids.push({left: p.left, top: p.top, width: p.width, height: p.height});
    xAxes.push({type: 'value', gridIndex: g, min: 119, max: 128,
        axisLine: {show: false, onZero: false}, axisTick: {show: false}, splitLine: {show: false},
        axisLabel: {customValues: [120, 122, 124, 126, 128], margin: 13, fontSize: 28, color: '#262626', fontFamily: sans, hideOverlap: false,
            formatter: function (v) { return v === 128 ? p.lastLabel : v + '°E'; }}});
    yAxes.push({type: 'value', gridIndex: g, min: 29, max: 35, interval: 1,
        axisLine: {show: false, onZero: false}, axisTick: {show: false}, splitLine: {show: false},
        axisLabel: {margin: 16, fontSize: 28, color: '#262626', fontFamily: sans, padding: [10, 0, 0, 0], formatter: function (v) { return v + '°N'; }}});
    heatIndexes.push(series.length);
    series.push({type: 'custom', xAxisIndex: ax, yAxisIndex: ay, z: 2, silent: true, clip: true, renderItem: renderCell,
        encode: {x: 0, y: 1}, dimensions: ['lon', 'lat', 's'], data: cellsOf(p.cells)});
    series.push({type: 'custom', xAxisIndex: ax, yAxisIndex: ay, z: 3, silent: true, clip: true, renderItem: renderLand,
        data: landShapes.map(function (s, k) { return [k]; })});
    series.push({type: 'scatter', xAxisIndex: ax, yAxisIndex: ay, z: 3, silent: true, clip: true, symbolSize: 3.5,
        data: specks, itemStyle: {color: '#000', opacity: 1}});
    series.push({type: 'scatter', xAxisIndex: ax, yAxisIndex: ay, z: 3, silent: true, clip: true, symbolSize: 6,
        data: rocks, itemStyle: {color: '#b3b3b3', borderColor: '#000', borderWidth: 1.8, opacity: 1}});
    series.push({type: 'custom', xAxisIndex: ax, yAxisIndex: ay, z: 4, silent: true, renderItem: renderGraticule, data: [[0]]});
    series.push({type: 'line', xAxisIndex: ax, yAxisIndex: ay, z: 5, silent: true, symbol: 'none', connectNulls: false,
        data: withGaps(p.contour), lineStyle: {color: '#000', width: 3.5}});
    series.push({type: 'custom', xAxisIndex: ax, yAxisIndex: ay, z: 5, silent: true, renderItem: renderContourLabel,
        encode: {x: 0, y: 1}, data: p.labels});
    if (i === 2) {
        series.push({type: 'custom', xAxisIndex: ax, yAxisIndex: ay, z: 6, silent: true, renderItem: renderVeil, data: [[0]]});
    }
    series.push({type: 'custom', xAxisIndex: ax, yAxisIndex: ay, z: 7, silent: true, renderItem: renderFrame, data: [[0]]});
    series.push({type: 'scatter', xAxisIndex: ax, yAxisIndex: ay, z: 8, silent: true, symbol: 'rect', symbolSize: [21, 24],
        data: [iorsSite], itemStyle: {color: '#ff0000', opacity: 1},
        label: {show: true, formatter: 'I-ORS', position: 'inside', offset: p.iorsOffset, color: '#ff0000', fontFamily: sans, fontWeight: 'bold', fontSize: 37}});
    if (i === 2) {
        series.push({type: 'line', xAxisIndex: ax, yAxisIndex: ay, z: 9, silent: true, symbol: 'circle', symbolSize: 21, clip: false,
            data: bavi, lineStyle: {color: '#000', width: 2.5}, itemStyle: {color: '#fff', borderColor: '#000', borderWidth: 1.5}});
        series.push({type: 'scatter', xAxisIndex: ax, yAxisIndex: ay, z: 9, silent: true, symbolSize: 25,
            data: [baviLegendPoint], itemStyle: {color: '#fff', borderColor: '#000', borderWidth: 1.5, opacity: 1},
            label: {show: true, formatter: 'Typhoon-Bavi', position: 'right', distance: 22, color: '#000', fontFamily: sans, fontWeight: 'bold', fontSize: 36}});
    }
});
// colorbar axis
grids.push({left: 2364, top: 900, width: 39, height: 546});
xAxes.push({type: 'value', gridIndex: 4, show: false});
yAxes.push({type: 'value', gridIndex: 4, position: 'right', min: 28, max: 35, interval: 1, z: 6,
    axisLine: {show: false, onZero: false},
    axisTick: {show: true, inside: true, length: 6, lineStyle: {color: '#333', width: 1.3}},
    axisLabel: {margin: 12, fontSize: 31, color: '#262626', fontFamily: sans, padding: [5, 0, 0, 0]}, splitLine: {show: false}});

function txt(x, y, text, size, color, extra) {
    var style = {text: text, fontFamily: sans, fontWeight: 'bold', fontSize: size, fill: color, align: 'center', verticalAlign: 'middle'};
    var el = {type: 'text', x: x, y: y, z: 20, silent: true, style: style};
    if (extra) {
        if (extra.rich) style.rich = extra.rich;
        if (extra.font) style.fontFamily = extra.font;
        if (extra.rotation) el.rotation = extra.rotation;
    }
    return el;
}
function subRich(size, subSize, color) {
    return {
        m: {fontFamily: sans, fontWeight: 'bold', fontSize: size, fill: color, color: color},
        s: {fontFamily: sans, fontWeight: 'bold', fontSize: subSize, fill: color, color: color, verticalAlign: 'bottom', padding: [Math.round(size * 0.42), 0, 0, 0]},
        u: {fontFamily: sans, fontWeight: 'bold', fontSize: subSize, fill: color, color: color, verticalAlign: 'top', padding: [0, 0, Math.round(size * 0.42), 0]},
        t: {fontFamily: sans, fontSize: size, fill: color, color: color},
        v: {fontFamily: sans, fontSize: subSize, fill: color, color: color, verticalAlign: 'top', padding: [0, 0, Math.round(size * 0.5), 0]}
    };
}
var graphics = [
    txt(703, 107, '(A)', 49, '#000', {font: serif}),
    txt(809, 272, 'I-ORS 2020', 42.5, '#000'),
    txt(1446, 20, 'Typhoon-Bavi', 41.5, '#000'),
    txt(1275, 786, 'Month', 37, '#000'),
    txt(1877, 33, '{t|×10}{v|12}', 38, orange, {rich: subRich(38, 31, orange)}),
    txt(1681, 133, '{m|- 0.77}{t|×}{m| 10}{u|12}{m|m}{u|3}', 43, orange, {rich: subRich(43, 28, orange)}),
    txt(1674, 535, '+ 2.61 psu', 42, blue),
    txt(556, 389, '{m|S}{s|10m}{m| (psu)}', 38.5, blue, {rich: subRich(38.5, 26, blue), rotation: Math.PI / 2}),
    txt(1925, 389, '{m|CDW Volume (m}{u|3}{m|)}', 38.5, orange, {rich: subRich(38.5, 24, orange), rotation: Math.PI / 2}),
    txt(2482, 1178, '{m|S}{s|10m}{m| (psu)}', 34, '#000', {rich: subRich(34, 23, '#000'), rotation: Math.PI / 2}),
    txt(415, 872, '{m|S}{s|10m}{m| Aug 4, 2020}', 43, '#000', {rich: subRich(43, 29, '#000')}),
    txt(1203, 872, '{m|S}{s|10m}{m| Aug 11, 2020}', 43, '#000', {rich: subRich(43, 29, '#000')}),
    txt(1996, 872, '{m|S}{s|10m}{m| Aug 26, 2020}', 43, '#000', {rich: subRich(43, 29, '#000')}),
    txt(140, 970, '(B)', 48, '#000', {font: serif}),
    txt(919, 970, '(C)', 48, '#000', {font: serif}),
    txt(1717, 973, '(D)', 48, '#000', {font: serif})
];

var myChart = echarts.init(document.getElementById('main'));
myChart.setOption({
    animation: false,
    backgroundColor: '#fff',
    textStyle: {fontFamily: sans},
    grid: grids,
    xAxis: xAxes,
    yAxis: yAxes,
    legend: {
        left: 662, top: 305, orient: 'vertical', padding: [9, 9, 6, 7], itemGap: 17, itemWidth: 78, itemHeight: 42,
        backgroundColor: '#fff', borderColor: '#333', borderWidth: 1.5, z: 12, selectedMode: false, align: 'left',
        itemStyle: {opacity: 0}, lineStyle: {width: 4.6},
        data: ['CNN  S10m', 'I-ORS S10m', 'CDW Volume'],
        formatter: function (name) {
            if (name.indexOf('S10m') >= 0) return '{a|' + name.replace('S10m', 'S') + '}{b|10m}';
            return '{a|' + name + '}';
        },
        textStyle: {rich: {
            a: {fontFamily: sans, fontSize: 32.5, color: '#262626'},
            b: {fontFamily: sans, fontSize: 27, color: '#262626', verticalAlign: 'bottom', padding: [17, 0, 0, 0]}
        }}
    },
    visualMap: {
        type: 'continuous', min: 28, max: 35, dimension: 2, seriesIndex: heatIndexes, calculable: false, silent: true,
        left: 2364, top: 900, itemWidth: 39, itemHeight: 546, padding: 0, text: null, borderColor: '#444', borderWidth: 1,
        inRange: {color: colorStops}
    },
    graphic: graphics,
    series: series
});
</script>
</body>
</html>
